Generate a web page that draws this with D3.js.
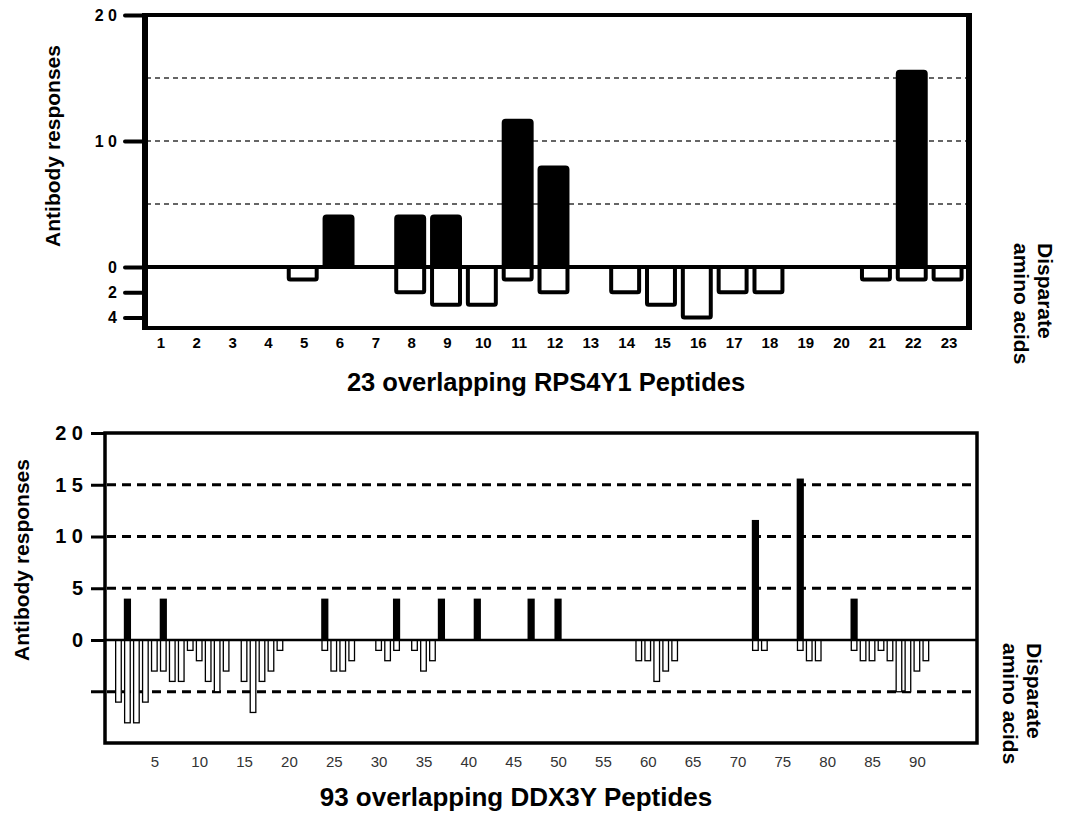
<!DOCTYPE html>
<html>
<head>
<meta charset="utf-8">
<script src="https://cdn.jsdelivr.net/npm/d3@7"></script>
<style>
  body { margin: 0; background: #fff; }
  svg { display: block; font-family: "Liberation Sans", Arial, sans-serif; }
</style>
</head>
<body>
<div id="chart"></div>
<script>
// top panel: RPS4Y1 peptides
var rpsPeptides = d3.range(1, 24);
var rpsResponses = [0, 0, 0, 0, 0, 4, 0, 4, 4, 0, 11.6, 7.9, 0, 0, 0, 0, 0, 0, 0, 0, 0, 15.5, 0];
var rpsDisparate = [0, 0, 0, 0, 1, 0, 0, 2, 3, 3, 1, 2, 0, 2, 3, 4, 2, 2, 0, 0, 1, 1, 1];
var rpsYTicks = [20, 10, 0, -2, -4];
var rpsYLabels = ["2 0", "1 0", "0", "2", "4"];

// bottom panel: DDX3Y peptides (only non-zero ones listed)
var ddxResponsePeptides = [2, 6, 24, 32, 37, 41, 47, 50, 72, 77, 83];
var ddxResponseValues   = [4, 4, 4, 4, 4, 4, 4, 4, 11.6, 15.6, 4];
var ddxDisparatePeptides = [1, 2, 3, 4, 5, 6, 7, 8, 9, 10, 11, 12, 13, 15, 16, 17, 18, 19,
  24, 25, 26, 27, 30, 31, 32, 34, 35, 36, 59, 60, 61, 62, 63,
  72, 73, 77, 78, 79, 83, 84, 85, 86, 87, 88, 89, 90, 91];
var ddxDisparateValues = [6, 8, 8, 6, 3, 3, 4, 4, 1, 2, 4, 5, 3, 4, 7, 4, 3, 1,
  1, 3, 3, 2, 1, 2, 1, 1, 3, 2, 2, 2, 4, 3, 2,
  1, 1, 1, 2, 2, 1, 2, 2, 1, 2, 5, 5, 3, 2];
var ddxXTicks = d3.range(5, 91, 5);
var ddxYTicks = [20, 15, 10, 5, 0];
var ddxYLabels = ["2 0", "1 5", "1 0", "5", "0"];

var svg = d3.select("#chart").append("svg")
  .attr("width", 1068)
  .attr("height", 815);

// ---------- top chart ----------
var xTop = d3.scaleBand().domain(rpsPeptides).range([143, 967]);
var yTop = d3.scaleLinear().domain([-4.84, 20]).range([328, 15]);
var topChart = svg.append("g");

// dashed grid
topChart.selectAll(".gridTop")
  .data([5, 10, 15])
  .enter().append("line")
  .attr("x1", 146).attr("x2", 966)
  .attr("y1", function (d) { return yTop(d); })
  .attr("y2", function (d) { return yTop(d); })
  .style("stroke", "#333")
  .style("stroke-width", 1.6)
  .style("stroke-dasharray", "5,4");

var bwTop = xTop.bandwidth() * 0.78;

// response bars (black)
topChart.selectAll(".respTop")
  .data(rpsPeptides.filter(function (p, i) { return rpsResponses[i] > 0; }))
  .enter().append("rect")
  .attr("x", function (p) { return xTop(p) + (xTop.bandwidth() - bwTop) / 2 - 1.5; })
  .attr("width", bwTop)
  .attr("y", function (p) { return yTop(rpsResponses[p - 1]); })
  .attr("height", function (p) { return yTop(0) - yTop(rpsResponses[p - 1]); })
  .attr("rx", 2)
  .style("fill", "#000")
  .style("stroke", "#000")
  .style("stroke-width", 4);

// disparate amino acid bars (open)
topChart.selectAll(".dispTop")
  .data(rpsPeptides.filter(function (p, i) { return rpsDisparate[i] > 0; }))
  .enter().append("rect")
  .attr("x", function (p) { return xTop(p) + (xTop.bandwidth() - bwTop) / 2 - 1.5; })
  .attr("width", bwTop)
  .attr("y", yTop(0))
  .attr("height", function (p) { return yTop(-rpsDisparate[p - 1]) - yTop(0); })
  .attr("rx", 1.5)
  .style("fill", "#fff")
  .style("stroke", "#000")
  .style("stroke-width", 4);

// zero line
topChart.append("line")
  .attr("x1", 145).attr("x2", 968)
  .attr("y1", yTop(0)).attr("y2", yTop(0))
  .style("stroke", "#000").style("stroke-width", 4);

// frame
topChart.append("line").attr("x1", 145).attr("x2", 145).attr("y1", 13).attr("y2", 330)
  .style("stroke", "#000").style("stroke-width", 6);
topChart.append("line").attr("x1", 969).attr("x2", 969).attr("y1", 13).attr("y2", 330)
  .style("stroke", "#000").style("stroke-width", 6);
topChart.append("line").attr("x1", 142).attr("x2", 972).attr("y1", 15).attr("y2", 15)
  .style("stroke", "#000").style("stroke-width", 4);
topChart.append("line").attr("x1", 142).attr("x2", 972).attr("y1", 328).attr("y2", 328)
  .style("stroke", "#000").style("stroke-width", 4);

// y axis
var yAxisTop = topChart.append("g")
  .attr("transform", "translate(145,0)")
  .call(d3.axisLeft(yTop).tickValues(rpsYTicks).tickSize(20).tickPadding(8)
    .tickFormat(function (d, i) { return rpsYLabels[i]; }));
yAxisTop.select(".domain").remove();
yAxisTop.selectAll(".tick line").style("stroke-width", 4).attr("stroke-linecap", "round");
yAxisTop.selectAll(".tick text")
  .style("font-size", "16px").style("font-weight", "bold").style("fill", "#000")
  .attr("font-family", null);

// x axis
var xAxisTop = topChart.append("g")
  .attr("transform", "translate(0,330)")
  .call(d3.axisBottom(xTop).tickSize(0).tickPadding(7));
xAxisTop.select(".domain").remove();
xAxisTop.selectAll(".tick text")
  .style("font-size", "15px").style("font-weight", "bold").style("fill", "#000")
  .attr("font-family", null);

topChart.append("text")
  .attr("x", 546).attr("y", 391)
  .attr("text-anchor", "middle")
  .style("font-size", "25.5px").style("font-weight", "bold")
  .text("23 overlapping RPS4Y1 Peptides");

topChart.append("text")
  .attr("transform", "translate(60,146) rotate(-90)")
  .attr("text-anchor", "middle")
  .style("font-size", "21px").style("font-weight", "bold")
  .text("Antibody responses");

var dispTop = topChart.append("text")
  .attr("transform", "translate(1038,243) rotate(90)")
  .style("font-size", "21px").style("font-weight", "bold");
dispTop.append("tspan").attr("x", 0).attr("y", 0).text("Disparate");
dispTop.append("tspan").attr("x", 0).attr("y", 24).text("amino acids");

// ---------- bottom chart ----------
var xBot = d3.scaleLinear().domain([-0.5, 96.7]).range([105, 977]);
var yBot = d3.scaleLinear().domain([-9.95, 20]).range([743, 433]);
var bot = svg.append("g");

bot.selectAll(".gridBot")
  .data([15, 10, 5, -5])
  .enter().append("line")
  .attr("x1", 107).attr("x2", 975)
  .attr("y1", function (d) { return yBot(d); })
  .attr("y2", function (d) { return yBot(d); })
  .style("stroke", "#000")
  .style("stroke-width", 3)
  .style("stroke-dasharray", "9,6");

// disparate (open) bars
bot.selectAll(".dispBot")
  .data(ddxDisparatePeptides)
  .enter().append("rect")
  .attr("x", function (p) { return xBot(p) - 2.8; })
  .attr("width", 5.6)
  .attr("y", yBot(0))
  .attr("height", function (p, i) { return yBot(-ddxDisparateValues[i]) - yBot(0); })
  .style("fill", "#fff")
  .style("stroke", "#000")
  .style("stroke-width", 1.3);

// response (black) bars
bot.selectAll(".respBot")
  .data(ddxResponsePeptides)
  .enter().append("rect")
  .attr("x", function (p) { return xBot(p) - 3.6; })
  .attr("width", 7.2)
  .attr("y", function (p, i) { return yBot(ddxResponseValues[i]); })
  .attr("height", function (p, i) { return yBot(0) - yBot(ddxResponseValues[i]); })
  .style("fill", "#000");

// zero line
bot.append("line")
  .attr("x1", 105).attr("x2", 977)
  .attr("y1", yBot(0)).attr("y2", yBot(0))
  .style("stroke", "#000").style("stroke-width", 2.5);

// frame
bot.append("rect")
  .attr("x", 105).attr("y", 433)
  .attr("width", 977 - 105).attr("height", 743 - 433)
  .style("fill", "none")
  .style("stroke", "#000")
  .style("stroke-width", 3.5);

// y axis
var yAxisBot = bot.append("g")
  .attr("transform", "translate(105,0)")
  .call(d3.axisLeft(yBot).tickValues(ddxYTicks).tickSize(14).tickPadding(8)
    .tickFormat(function (d, i) { return ddxYLabels[i]; }));
yAxisBot.select(".domain").remove();
yAxisBot.selectAll(".tick line").style("stroke-width", 3);
yAxisBot.selectAll(".tick text")
  .style("font-size", "20px").style("font-weight", "bold").style("fill", "#000")
  .attr("font-family", null);
// unlabeled tick at the lower dashed line
bot.append("line")
  .attr("x1", 91).attr("x2", 105)
  .attr("y1", yBot(-5)).attr("y2", yBot(-5))
  .style("stroke", "#000").style("stroke-width", 3);

// x axis
var xAxisBot = bot.append("g")
  .attr("transform", "translate(0,745)")
  .call(d3.axisBottom(xBot).tickValues(ddxXTicks).tickSize(0).tickPadding(11));
xAxisBot.select(".domain").remove();
xAxisBot.selectAll(".tick text")
  .style("font-size", "15px").style("fill", "#333")
  .attr("font-family", null);

bot.append("text")
  .attr("x", 516).attr("y", 806)
  .attr("text-anchor", "middle")
  .style("font-size", "26px").style("font-weight", "bold")
  .text("93 overlapping DDX3Y Peptides");

bot.append("text")
  .attr("transform", "translate(29,560) rotate(-90)")
  .attr("text-anchor", "middle")
  .style("font-size", "21px").style("font-weight", "bold")
  .text("Antibody responses");

var dispBot = bot.append("text")
  .attr("transform", "translate(1027,643) rotate(90)")
  .style("font-size", "21px").style("font-weight", "bold");
dispBot.append("tspan").attr("x", 0).attr("y", 0).text("Disparate");
dispBot.append("tspan").attr("x", 0).attr("y", 24).text("amino acids");
</script>
</body>
</html>
